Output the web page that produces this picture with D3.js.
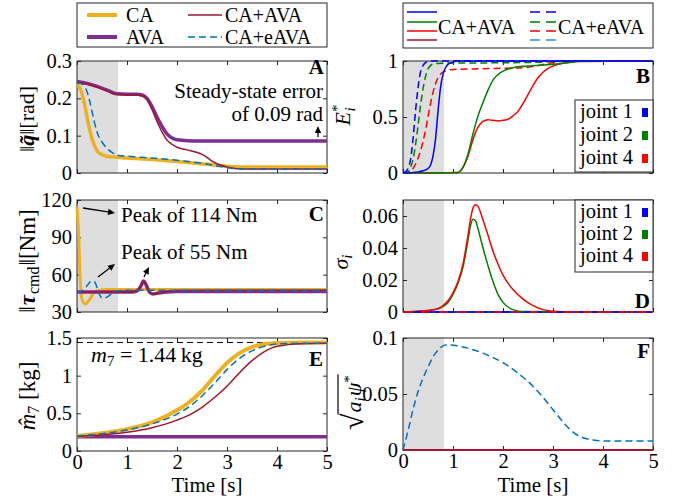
<!DOCTYPE html>
<html><head><meta charset="utf-8">
<script src="https://cdn.jsdelivr.net/npm/d3@7"></script>
<style>
body{margin:0;background:#fff}
</style>
</head><body>
<svg id="fig" width="678" height="499"></svg>
<script>
// ---------- data ----------
const xTicks = [0, 1, 2, 3, 4, 5];
const shadeEnd = 0.82;

// A: joint error norm [rad]
const yTicksA = [0, 0.1, 0.2, 0.3];
const errCA_t = [0, 0.05, 0.1, 0.15, 0.2, 0.25, 0.3, 0.4, 0.5, 0.6, 0.8, 1.0, 1.5, 2.0, 2.5, 2.8, 3.0, 3.3, 3.6, 4.0, 5.0];
const errCA   = [0.236, 0.23, 0.212, 0.185, 0.15, 0.118, 0.092, 0.06, 0.049, 0.045, 0.042, 0.040, 0.036, 0.031, 0.025, 0.021, 0.018, 0.016, 0.016, 0.016, 0.016];
const errAVA_t = [0, 0.2, 0.4, 0.6, 0.8, 1.0, 1.2, 1.3, 1.4, 1.5, 1.6, 1.7, 1.8, 1.9, 2.0, 2.3, 5.0];
const errAVA   = [0.245, 0.24, 0.232, 0.222, 0.212, 0.211, 0.211, 0.209, 0.2, 0.178, 0.15, 0.125, 0.105, 0.094, 0.089, 0.086, 0.086];
const errCAAVA_t = [0, 0.2, 0.4, 0.6, 0.8, 1.0, 1.2, 1.3, 1.4, 1.5, 1.6, 1.7, 1.8, 1.9, 2.0, 2.2, 2.35, 2.5, 2.6, 2.7, 2.85, 3.0, 3.3, 5.0];
const errCAAVA   = [0.243, 0.238, 0.23, 0.22, 0.21, 0.209, 0.209, 0.207, 0.196, 0.17, 0.138, 0.11, 0.088, 0.077, 0.069, 0.062, 0.057, 0.05, 0.042, 0.032, 0.022, 0.016, 0.011, 0.011];
const errEAVA_t = [0, 0.1, 0.15, 0.2, 0.25, 0.3, 0.35, 0.4, 0.5, 0.6, 0.7, 0.8, 1.0, 1.5, 2.0, 2.5, 2.8, 3.0, 3.3, 5.0];
const errEAVA   = [0.242, 0.238, 0.232, 0.218, 0.195, 0.165, 0.135, 0.11, 0.083, 0.066, 0.055, 0.048, 0.045, 0.040, 0.034, 0.026, 0.019, 0.014, 0.011, 0.011];

// B: normalised energy E*_i
const yTicksB = [0, 0.5, 1];
const eDashJ1_t = [0, 0.05, 0.1, 0.15, 0.2, 0.25, 0.3, 0.35, 0.4, 0.45, 0.5, 0.6, 5.0];
const eDashJ1   = [0, 0.01, 0.04, 0.12, 0.3, 0.55, 0.76, 0.9, 0.96, 0.985, 0.995, 1, 1];
const eDashJ2_t = [0, 0.1, 0.15, 0.2, 0.25, 0.3, 0.35, 0.4, 0.45, 0.5, 0.55, 0.6, 0.7, 0.8, 1.0, 2.0, 2.8, 3.2, 5.0];
const eDashJ2   = [0, 0.01, 0.05, 0.12, 0.25, 0.42, 0.6, 0.75, 0.86, 0.93, 0.96, 0.972, 0.978, 0.98, 0.982, 0.984, 0.99, 1, 1];
const eDashJ4_t = [0, 0.15, 0.2, 0.3, 0.4, 0.45, 0.5, 0.55, 0.6, 0.7, 0.8, 1.0, 1.5, 2.0, 2.4, 2.7, 3.0, 3.3, 5.0];
const eDashJ4   = [0, 0.01, 0.04, 0.13, 0.28, 0.38, 0.5, 0.62, 0.72, 0.85, 0.9, 0.925, 0.93, 0.935, 0.94, 0.96, 0.985, 1, 1];
const eSolJ1_t = [0, 0.3, 0.4, 0.5, 0.55, 0.6, 0.65, 0.7, 0.75, 0.8, 0.85, 0.9, 1.0, 1.1, 1.3, 5.0];
const eSolJ1   = [0, 0.01, 0.02, 0.04, 0.07, 0.15, 0.3, 0.55, 0.76, 0.88, 0.94, 0.97, 0.99, 1, 1, 1];
const eSolJ2_t = [0, 1.1, 1.2, 1.3, 1.4, 1.5, 1.6, 1.7, 1.8, 1.9, 2.0, 2.2, 2.5, 3.0, 3.3, 3.6, 5.0];
const eSolJ2   = [0, 0.005, 0.05, 0.17, 0.35, 0.51, 0.63, 0.74, 0.83, 0.88, 0.91, 0.94, 0.955, 0.97, 0.985, 1, 1];
const eSolJ4_t = [0, 1.1, 1.2, 1.3, 1.4, 1.5, 1.6, 1.7, 1.8, 1.9, 2.0, 2.1, 2.2, 2.3, 2.4, 2.5, 2.6, 2.7, 2.8, 2.9, 3.0, 3.2, 3.5, 5.0];
const eSolJ4   = [0, 0.005, 0.05, 0.15, 0.3, 0.41, 0.46, 0.475, 0.47, 0.465, 0.47, 0.48, 0.51, 0.55, 0.62, 0.7, 0.78, 0.85, 0.9, 0.935, 0.955, 0.98, 0.995, 1];

// C: commanded torque norm [Nm]
const yTicksC = [30, 60, 90, 120];
const tauCA_t = [0, 0.03, 0.06, 0.09, 0.13, 0.17, 0.25, 0.33, 0.45, 0.6, 1.0, 5.0];
const tauCA   = [114, 95, 60, 42, 37.5, 36.5, 40, 45, 47.5, 48, 48, 48];
const tauEAVA_t = [0, 0.1, 0.2, 0.27, 0.32, 0.37, 0.42, 0.47, 0.53, 0.6, 0.7, 0.8, 1.0, 5.0];
const tauEAVA   = [45.5, 47, 51, 54.5, 55, 53, 47, 42.5, 41, 42, 45, 47, 47.5, 47.5];
const tauAVA_t = [0, 1.1, 1.2, 1.28, 1.33, 1.38, 1.45, 1.52, 1.6, 1.8, 2.0, 5.0];
const tauAVA   = [46, 46, 47, 51, 55, 52, 46, 44.5, 45, 46, 46.5, 46.5];
const tauCAAVA = [46, 46, 47, 51, 55, 52, 46, 44.5, 45.2, 46.5, 47.3, 47.5];

// D: sigma_i
const yTicksD = [0, 0.02, 0.04, 0.06];
const sigJ4_t = [0, 0.3, 0.5, 0.7, 0.8, 0.9, 1.0, 1.1, 1.2, 1.3, 1.35, 1.4, 1.45, 1.5, 1.6, 1.7, 1.8, 1.9, 2.0, 2.2, 2.4, 2.6, 2.8, 3.0, 3.3, 5.0];
const sigJ4   = [0, 0.0005, 0.001, 0.002, 0.004, 0.007, 0.012, 0.019, 0.03, 0.048, 0.058, 0.065, 0.067, 0.066, 0.0575, 0.048, 0.038, 0.03, 0.023, 0.014, 0.008, 0.004, 0.0015, 0.0005, 0, 0];
const sigJ2_t = [0, 0.3, 0.5, 0.7, 0.8, 0.9, 1.0, 1.1, 1.2, 1.3, 1.35, 1.4, 1.45, 1.5, 1.6, 1.7, 1.8, 1.9, 2.0, 2.2, 2.4, 5.0];
const sigJ2   = [0, 0.0005, 0.001, 0.002, 0.0035, 0.006, 0.011, 0.018, 0.028, 0.045, 0.054, 0.058, 0.057, 0.052, 0.04, 0.029, 0.019, 0.011, 0.006, 0.0015, 0.0003, 0];
const zero_t = [0, 5];
const zeroV  = [0, 0];

// E: payload mass estimate [kg]
const yTicksE = [0, 0.5, 1, 1.5];
const massTrue = 1.44;
const mass_t = [0, 0.5, 1.0, 1.5, 2.0, 2.25, 2.5, 2.75, 3.0, 3.25, 3.5, 3.75, 4.0, 4.5, 5.0];
const massCA    = [0.2, 0.235, 0.29, 0.38, 0.54, 0.65, 0.8, 0.99, 1.17, 1.3, 1.38, 1.42, 1.435, 1.44, 1.44];
const massEAVA  = [0.2, 0.23, 0.28, 0.36, 0.49, 0.59, 0.73, 0.9, 1.08, 1.23, 1.33, 1.39, 1.42, 1.43, 1.43];
const massCAAVA = [0.19, 0.215, 0.25, 0.31, 0.41, 0.48, 0.58, 0.71, 0.86, 1.04, 1.2, 1.32, 1.39, 1.425, 1.43];
const massAVA   = [0.19, 0.19, 0.19, 0.19, 0.19, 0.19, 0.19, 0.19, 0.19, 0.19, 0.19, 0.19, 0.19, 0.19, 0.19];

// F: sqrt(a_i psi_*)
const yTicksF = [0, 0.05, 0.1];
const psi_t = [0, 0.1, 0.2, 0.3, 0.4, 0.5, 0.6, 0.7, 0.8, 0.9, 1.0, 1.2, 1.4, 1.6, 1.8, 2.0, 2.2, 2.4, 2.6, 2.8, 3.0, 3.2, 3.4, 3.6, 3.8, 4.0, 4.5, 5.0];
const psiEAVA = [0, 0.017, 0.036, 0.052, 0.064, 0.074, 0.083, 0.089, 0.093, 0.094, 0.0935, 0.092, 0.0895, 0.0865, 0.0825, 0.078, 0.072, 0.065, 0.057, 0.047, 0.036, 0.025, 0.016, 0.011, 0.009, 0.008, 0.008, 0.008];

// ---------- styles ----------
const C_CA = "#EDB120", C_AVA = "#7E2F8E", C_CAAVA = "#A2142F", C_EAVA = "#0072BD";
const C_J1 = "#0000FF", C_J2 = "#008000", C_J4 = "#FF0000";
const AX = "#262626";
const DASH = "7,4";
const TICK_FS = 20.5, TEXT_FS = 21, LEG_FS = 20;

// pick the first installed serif face (Times-like preferred)
const FONT = (function () {
  const cands = ["Liberation Serif", "Tinos", "Times New Roman", "Nimbus Roman", "Nimbus Roman No9 L",
                 "FreeSerif", "DejaVu Serif", "Noto Serif", "Times"];
  const ctx = document.createElement("canvas").getContext("2d");
  const probe = "Steady-state error 0123456789 joint";
  const w = f => { ctx.font = "40px " + f; return ctx.measureText(probe).width; };
  const base1 = w("monospace"), base2 = w("sans-serif");
  for (const c of cands) {
    if (w(`"${c}", monospace`) !== base1 || w(`"${c}", sans-serif`) !== base2) return `"${c}", serif`;
  }
  return "serif";
})();

const svg = d3.select("#fig").attr("font-family", FONT);

function panel(box, yDom, yTicks, opt) {
  const x = d3.scaleLinear().domain([0, 5]).range([box.x0, box.x1]);
  const y = d3.scaleLinear().domain(yDom).range([box.y1, box.y0]);
  const g = svg.append("g");
  if (opt.shade) {
    g.append("rect").attr("x", x(0)).attr("y", box.y0)
      .attr("width", x(shadeEnd) - x(0)).attr("height", box.y1 - box.y0)
      .attr("fill", "#dedede");
  }
  const axes = [
    [d3.axisBottom(x).tickValues(xTicks).tickFormat(opt.xLabels ? d => String(d) : () => "").tickPadding(3), `translate(0,${box.y1})`],
    [d3.axisTop(x).tickValues(xTicks).tickFormat(() => ""), `translate(0,${box.y0})`],
    [d3.axisLeft(y).tickValues(yTicks).tickFormat(d => String(d)).tickPadding(5), `translate(${box.x0},0)`],
    [d3.axisRight(y).tickValues(yTicks).tickFormat(() => ""), `translate(${box.x1},0)`]
  ];
  axes.forEach(([ax, tr]) => {
    const a = g.append("g").attr("transform", tr)
      .call(ax.tickSizeInner(-4).tickSizeOuter(0));
    a.select(".domain").remove();
    a.selectAll(".tick line").attr("stroke", AX);
    a.attr("font-family", FONT).attr("font-size", TICK_FS);
    a.selectAll("text").attr("fill", "#000");
  });
  g.append("rect").attr("x", box.x0).attr("y", box.y0)
    .attr("width", box.x1 - box.x0).attr("height", box.y1 - box.y0)
    .attr("fill", "none").attr("stroke", AX).attr("stroke-width", 1);
  const lines = svg.append("g");
  return {x, y, g, lines, box};
}

function draw(p, t, v, color, width, dash) {
  const line = d3.line().x(d => p.x(d[0])).y(d => p.y(d[1])).curve(d3.curveMonotoneX);
  p.lines.append("path").attr("d", line(t.map((tt, i) => [tt, v[i]])))
    .attr("fill", "none").attr("stroke", color).attr("stroke-width", width)
    .attr("stroke-dasharray", dash || null).attr("stroke-linejoin", "round");
}

function txt(x, y, s, size, anchor) {
  return svg.append("text").attr("x", x).attr("y", y).attr("font-size", size || TEXT_FS)
    .attr("text-anchor", anchor || "start").text(s);
}

function letter(s, x, y) {
  txt(x, y, s, 21, "end").attr("font-weight", "bold");
}

function arrow(x1, y1, x2, y2) {
  const ang = Math.atan2(y2 - y1, x2 - x1), L = 7, W = 3.2;
  const bx = x2 - L * Math.cos(ang), by = y2 - L * Math.sin(ang);
  svg.append("line").attr("x1", x1).attr("y1", y1).attr("x2", bx).attr("y2", by)
    .attr("stroke", "#000").attr("stroke-width", 1.3);
  const px = -Math.sin(ang) * W, py = Math.cos(ang) * W;
  svg.append("path").attr("d", `M${x2},${y2}L${bx + px},${by + py}L${bx - px},${by - py}Z`).attr("fill", "#000");
}

function yLabel(cx, cy, size, build) {
  const t = svg.append("text").attr("transform", `translate(${cx},${cy}) rotate(-90)`)
    .attr("text-anchor", "middle").attr("font-size", size);
  build(t);
  return t;
}

function jointLegend(x0, y0, x1, y1, baselines) {
  svg.append("rect").attr("x", x0).attr("y", y0).attr("width", x1 - x0).attr("height", y1 - y0)
    .attr("fill", "#fff").attr("stroke", AX).attr("stroke-width", 1);
  [["joint 1", C_J1], ["joint 2", C_J2], ["joint 4", C_J4]].forEach(([lab, c], i) => {
    txt(580, baselines[i], lab, LEG_FS + 0.5);
    svg.append("rect").attr("x", 642).attr("y", baselines[i] - 10).attr("width", 6).attr("height", 9).attr("fill", c);
  });
}

// ---------- panels ----------
const pA = panel({x0: 77, x1: 327, y0: 61, y1: 173}, [0, 0.3], yTicksA, {shade: true});
const pB = panel({x0: 403, x1: 653, y0: 61, y1: 173}, [0, 1], yTicksB, {shade: true});
const pC = panel({x0: 77, x1: 327, y0: 200, y1: 312}, [30, 120], yTicksC, {shade: true});
const pD = panel({x0: 403, x1: 653, y0: 200, y1: 312}, [0, 0.07], yTicksD, {shade: true});
const pE = panel({x0: 77, x1: 327, y0: 338, y1: 451}, [0, 1.5], yTicksE, {shade: false, xLabels: true});
const pF = panel({x0: 403, x1: 653, y0: 338, y1: 450}, [0, 0.1], yTicksF, {shade: true, xLabels: true});

// A
draw(pA, errCA_t, errCA, C_CA, 3.5);
draw(pA, errAVA_t, errAVA, C_AVA, 3.5);
draw(pA, errCAAVA_t, errCAAVA, C_CAAVA, 1.5);
draw(pA, errEAVA_t, errEAVA, C_EAVA, 1.5, DASH);
letter("A", 324, 74);
txt(323, 98, "Steady-state error", TEXT_FS, "end");
txt(323, 121, "of 0.09 rad", TEXT_FS, "end");
arrow(318, 137, 318, 126);

// B
draw(pB, eDashJ4_t, eDashJ4, C_J4, 1.5, DASH);
draw(pB, eDashJ2_t, eDashJ2, C_J2, 1.5, DASH);
draw(pB, eDashJ1_t, eDashJ1, C_J1, 1.5, DASH);
draw(pB, eSolJ4_t, eSolJ4, C_J4, 1.5);
draw(pB, eSolJ2_t, eSolJ2, C_J2, 1.5);
draw(pB, eSolJ1_t, eSolJ1, C_J1, 1.5);
letter("B", 650, 83);
jointLegend(575, 100, 653, 172, [118, 141, 164]);

// C
draw(pC, tauCA_t, tauCA, C_CA, 3);
draw(pC, tauAVA_t, tauAVA, C_AVA, 3.5);
draw(pC, tauAVA_t, tauCAAVA, C_CAAVA, 1.5);
draw(pC, tauEAVA_t, tauEAVA, C_EAVA, 1.5, DASH);
letter("C", 324, 221);
txt(121, 222, "Peak of 114 Nm");
txt(121, 259, "Peak of 55 Nm");
arrow(83, 208, 115, 213);
arrow(98, 277, 115, 264);
arrow(144, 277, 149, 267);

// D
draw(pD, zero_t, zeroV, C_J1, 1.5);
draw(pD, sigJ2_t, sigJ2, C_J2, 1.5);
draw(pD, sigJ4_t, sigJ4, C_J4, 1.5);
draw(pD, zero_t, zeroV, C_J1, 1.5, DASH);
draw(pD, zero_t, zeroV, C_J4, 1.5, "9,9");
letter("D", 650, 308);
jointLegend(575, 200, 653, 272, [218, 240, 262]);

// E
pE.lines.append("line").attr("x1", pE.x(0)).attr("x2", pE.x(5))
  .attr("y1", pE.y(massTrue)).attr("y2", pE.y(massTrue))
  .attr("stroke", "#000").attr("stroke-width", 1).attr("stroke-dasharray", "6,4");
draw(pE, mass_t, massAVA, C_AVA, 3.5);
draw(pE, mass_t, massCA, C_CA, 4);
draw(pE, mass_t, massCAAVA, C_CAAVA, 1.5);
draw(pE, mass_t, massEAVA, C_EAVA, 1.5, DASH);
letter("E", 323, 366);
(function () {
  const t = txt(91, 362, "", 22);
  t.append("tspan").attr("font-style", "italic").text("m");
  t.append("tspan").attr("font-size", 15).attr("dy", 4).text("7");
  t.append("tspan").attr("dy", -4).text(" = 1.44\u2009kg");
})();

// F
draw(pF, zero_t, zeroV, C_CAAVA, 2);
draw(pF, psi_t, psiEAVA, C_EAVA, 1.5, DASH);
letter("F", 650, 358);

// x labels
[pE, pF].forEach(p => {
  txt((p.box.x0 + p.box.x1) / 2 + 5, 492, "Time [s]", TEXT_FS, "middle");
});

// y labels
yLabel(34, 119, 22, t => {
  t.append("tspan").text("\u2016");
  t.append("tspan").attr("font-weight", "bold").attr("font-style", "italic").text("q\u0303");
  t.append("tspan").text("\u2016[rad]");
});
yLabel(35, 261, 23, t => {
  t.append("tspan").text("\u2016");
  t.append("tspan").attr("font-weight", "bold").attr("font-style", "italic").attr("dx", 1).text("\u03C4");
  t.append("tspan").attr("font-size", 16).attr("dy", 4).attr("dx", 1).text("cmd");
  t.append("tspan").attr("dy", -4).attr("dx", 1).text("\u2016[Nm]");
});
yLabel(35, 396, 23, t => {
  t.append("tspan").attr("font-style", "italic").text("m\u0302");
  t.append("tspan").attr("font-size", 16).attr("dy", 4).text("7");
  t.append("tspan").attr("dy", -4).text(" [kg]");
});
yLabel(350, 115, 22, t => {
  t.append("tspan").attr("font-style", "italic").text("E");
  t.append("tspan").attr("font-size", 15).attr("dy", -8).text("*");
  t.append("tspan").attr("font-size", 15).attr("font-style", "italic").attr("dx", -7).attr("dy", 13).text("i");
});
yLabel(348, 262, 22, t => {
  t.append("tspan").attr("font-style", "italic").text("\u03C3");
  t.append("tspan").attr("font-size", 15).attr("font-style", "italic").attr("dy", 4).text("i");
});
(function () {
  // radical sign with a vinculum over a_i psi_*
  const g = svg.append("g").attr("transform", "translate(361,430) rotate(-90)");
  const rad = g.append("text").attr("font-size", 30).attr("x", 0).attr("y", 2).text("\u221A");
  const rw = rad.node().getComputedTextLength();
  const t = g.append("text").attr("font-size", 22).attr("x", rw + 1).attr("y", 0);
  t.append("tspan").attr("font-style", "italic").text("a");
  t.append("tspan").attr("font-size", 15).attr("font-style", "italic").attr("dy", 4).text("i");
  t.append("tspan").attr("font-style", "italic").attr("dy", -4).attr("dx", 1).text("\u03C8");
  t.append("tspan").attr("font-size", 15).attr("dy", -7).text("*");
  const tw = t.node().getComputedTextLength();
  g.append("line").attr("x1", rw - 1).attr("x2", rw + tw + 3)
    .attr("y1", -23).attr("y2", -23).attr("stroke", "#000").attr("stroke-width", 1.2);
})();

// ---------- legends ----------
(function () {
  svg.append("rect").attr("x", 77).attr("y", 3).attr("width", 250).attr("height", 44)
    .attr("fill", "#fff").attr("stroke", AX);
  const items = [
    [87, 117, 15, C_CA, 4, null, 126, "CA"],
    [87, 117, 37, C_AVA, 4, null, 126, "AVA"],
    [188, 222, 15, C_CAAVA, 1.5, null, 225, "CA+AVA"],
    [188, 222, 37, C_EAVA, 1.5, DASH, 225, "CA+eAVA"]
  ];
  items.forEach(([a, b, yy, c, w, d, tx, lab]) => {
    svg.append("line").attr("x1", a).attr("x2", b).attr("y1", yy).attr("y2", yy)
      .attr("stroke", c).attr("stroke-width", w).attr("stroke-dasharray", d);
    txt(tx, yy + 7, lab, LEG_FS);
  });

  svg.append("rect").attr("x", 403).attr("y", 3).attr("width", 250).attr("height", 45)
    .attr("fill", "#fff").attr("stroke", AX);
  const rows = [12, 22, 31, 40];
  [C_J1, C_J2, C_J4, C_CAAVA].forEach((c, i) => {
    svg.append("line").attr("x1", 407).attr("x2", 437).attr("y1", rows[i]).attr("y2", rows[i])
      .attr("stroke", c).attr("stroke-width", 1.5);
  });
  [C_J1, C_J2, C_J4, "#2B8FD6"].forEach((c, i) => {
    svg.append("line").attr("x1", 530).attr("x2", 557).attr("y1", rows[i]).attr("y2", rows[i])
      .attr("stroke", c).attr("stroke-width", 1.5).attr("stroke-dasharray", "10,6");
  });
  txt(438, 34, "CA+AVA", LEG_FS);
  txt(558, 34, "CA+eAVA", LEG_FS);
})();
</script>
</body></html>
